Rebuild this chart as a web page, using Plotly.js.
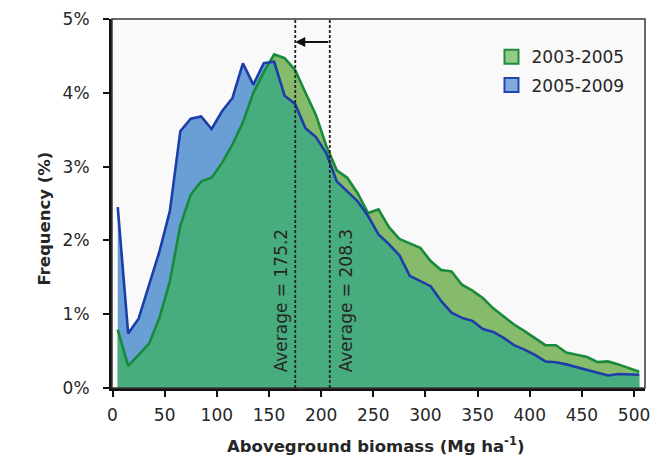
<!DOCTYPE html>
<html>
<head>
<meta charset="utf-8">
<script src="https://cdn.plot.ly/plotly-3.0.1.min.js"></script>
<style>html,body{margin:0;padding:0;background:#fff;}#chart{width:655px;height:457px;}</style>
</head>
<body>
<div id="chart"></div>
<script>
// Aboveground biomass bins (Mg ha-1)
const biomass = [5,15,25,35,45,55,65,75,85,95,105,115,125,135,145,155,165,175,185,195,205,215,225,235,245,255,265,275,285,295,305,315,325,335,345,355,365,375,385,395,405,415,425,435,445,455,465,475,485,495,505];
// Frequency (%) 2003-2005
const freq2003_2005 = [0.79,0.30,0.45,0.60,0.95,1.45,2.20,2.62,2.80,2.85,3.05,3.30,3.60,4.00,4.28,4.52,4.47,4.31,4.00,3.70,3.28,2.95,2.85,2.64,2.37,2.42,2.18,2.02,1.96,1.90,1.72,1.60,1.58,1.40,1.32,1.22,1.08,0.97,0.86,0.77,0.68,0.58,0.58,0.48,0.45,0.42,0.35,0.36,0.32,0.27,0.22];
// Frequency (%) 2005-2009
const freq2005_2009 = [2.45,0.74,0.94,1.38,1.85,2.40,3.48,3.65,3.68,3.51,3.75,3.93,4.40,4.11,4.40,4.42,3.96,3.85,3.52,3.40,3.18,2.80,2.66,2.53,2.33,2.08,1.95,1.80,1.52,1.45,1.38,1.18,1.02,0.95,0.91,0.80,0.76,0.68,0.58,0.52,0.45,0.36,0.35,0.32,0.28,0.25,0.21,0.17,0.19,0.18,0.18];
const seriesNames = ['2003-2005','2005-2009'];
const averages = [175.2, 208.3];
const xTicks = [0,50,100,150,200,250,300,350,400,450,500];
const yTicks = [0,1,2,3,4,5];
const yTickText = ['0%','1%','2%','3%','4%','5%'];

const overlap = freq2003_2005.map((g,i)=>Math.min(g, freq2005_2009[i]));

const FONT = 'DejaVu Sans, Arial, sans-serif';
const TXT = '#262626';

const traces = [
  {x: biomass, y: freq2003_2005, type:'scatter', mode:'lines', fill:'tozeroy', fillcolor:'#86bb6b', line:{width:0, color:'#86bb6b'}, showlegend:false, hoverinfo:'skip'},
  {x: biomass, y: freq2005_2009, type:'scatter', mode:'lines', fill:'tozeroy', fillcolor:'#6a9fd5', line:{width:0, color:'#6a9fd5'}, showlegend:false, hoverinfo:'skip'},
  {x: biomass, y: overlap, type:'scatter', mode:'lines', fill:'tozeroy', fillcolor:'#47ad7e', line:{width:0, color:'#47ad7e'}, showlegend:false, hoverinfo:'skip'},
  {x: biomass, y: freq2003_2005, type:'scatter', mode:'lines', line:{width:2.6, color:'#178a3b'}, showlegend:false},
  {x: biomass, y: freq2005_2009, type:'scatter', mode:'lines', line:{width:2.6, color:'#1c3daa'}, showlegend:false},
  {x:[null], y:[null], type:'scatter', mode:'markers', name: seriesNames[0], legendgroup:'a',
   marker:{symbol:'square', size:14, color:'#92cc84', line:{color:'#1f8c3e', width:2}}},
  {x:[null], y:[null], type:'scatter', mode:'markers', name: seriesNames[1], legendgroup:'b',
   marker:{symbol:'square', size:14, color:'#80a9de', line:{color:'#2445b0', width:2}}}
];

const shapes = [
  {type:'rect', xref:'paper', yref:'paper', x0:0, x1:1, y0:0, y1:1, line:{color:'#3a3a3a', width:1.5}, layer:'above'}
];
averages.forEach(a=>{
  shapes.push({type:'line', xref:'x', yref:'y', x0:a, x1:a, y0:0, y1:5, line:{color:'#222', width:1.8, dash:'3px,2px'}, layer:'above'});
});

const annotations = [
  {xref:'paper', yref:'paper', x:-0.148, y:0.458, text:'<b>Frequency (%)</b>', textangle:-90, showarrow:false, font:{family:FONT, size:16.5, color:TXT}},
  {xref:'paper', yref:'paper', x:0.495, y:-0.19, text:'<b>Aboveground biomass (Mg ha<sup>-1</sup>)</b>', showarrow:false, font:{family:FONT, size:16.5, color:TXT}},
  {xref:'x', yref:'y', x:161.7, y:1.19, text:'Average = ' + averages[0], textangle:-90, showarrow:false, font:{family:FONT, size:17, color:TXT}},
  {xref:'x', yref:'y', x:224, y:1.19, text:'Average = ' + averages[1], textangle:-90, showarrow:false, font:{family:FONT, size:17, color:TXT}},
  {xref:'x', yref:'y', axref:'x', ayref:'y', x:averages[0], y:4.69, ax:averages[1], ay:4.69, text:'', showarrow:true, arrowhead:2, arrowsize:1, arrowwidth:2, arrowcolor:'#111', standoff:0, startstandoff:0}
];

const layout = {
  width:655, height:457,
  margin:{l:112, r:10, t:19, b:69, pad:0},
  paper_bgcolor:'#ffffff',
  plot_bgcolor:'#f9f9f9',
  font:{family:FONT, size:17, color:TXT},
  showlegend:true,
  legend:{x:0.712, y:0.945, xanchor:'left', yanchor:'top', bgcolor:'rgba(0,0,0,0)', font:{family:FONT, size:17, color:TXT}, tracegroupgap:3, itemwidth:30},
  xaxis:{range:[-0.5,510.5], tickvals:xTicks, ticks:'outside', ticklen:6, tickwidth:2, tickcolor:'#111', showline:true, linewidth:3, linecolor:'#111', showgrid:false, zeroline:false, fixedrange:true, ticklabelstandoff:4, tickfont:{family:FONT, size:17, color:TXT}},
  yaxis:{range:[0,5], tickvals:yTicks, ticktext:yTickText, tickmode:'array', ticks:'outside', ticklen:6, tickwidth:2, tickcolor:'#111', showline:true, linewidth:3, linecolor:'#111', showgrid:false, zeroline:false, fixedrange:true, ticklabelstandoff:10, tickfont:{family:FONT, size:17, color:TXT}},
  shapes: shapes,
  annotations: annotations
};

Plotly.newPlot('chart', traces, layout, {displayModeBar:false, staticPlot:true});
</script>
</body>
</html>
